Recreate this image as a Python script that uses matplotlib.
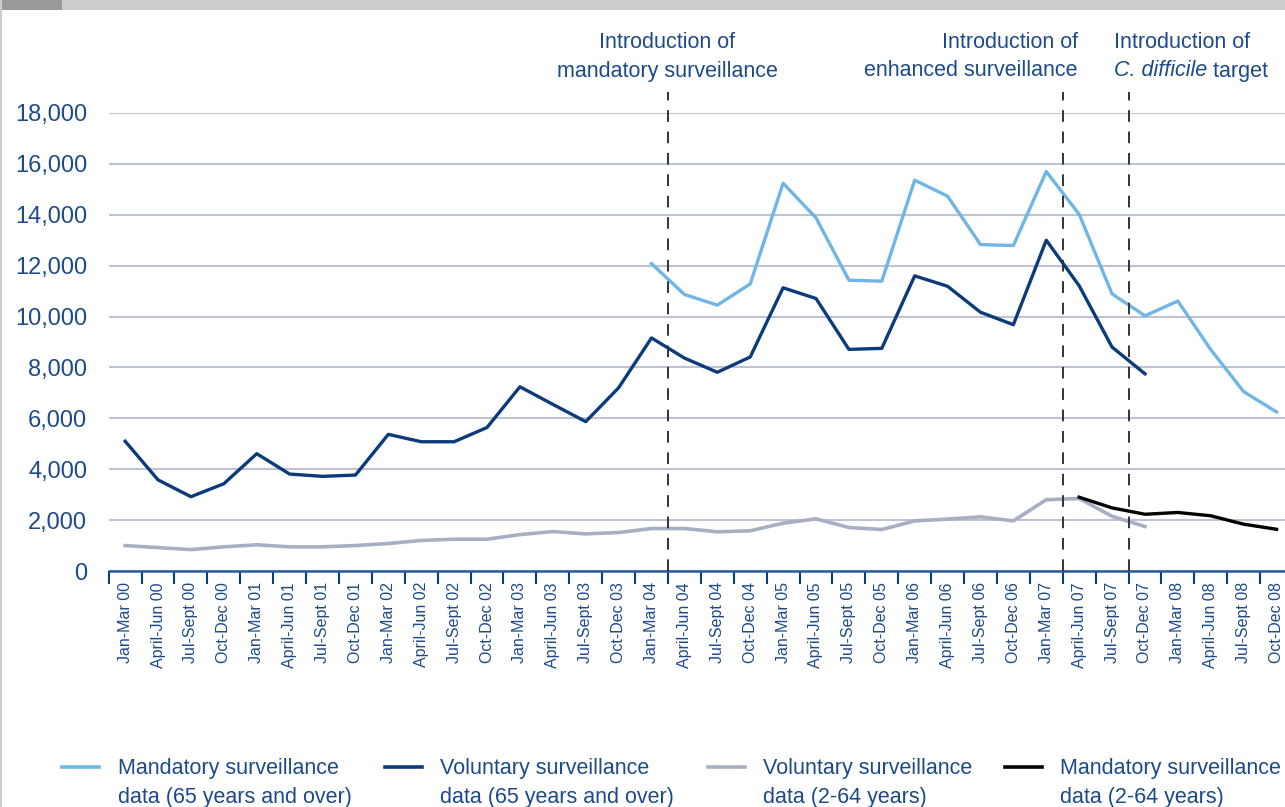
import numpy as np
import matplotlib.pyplot as plt
from matplotlib.lines import Line2D
from matplotlib.patches import Rectangle

quarters = ['Jan-Mar', 'April-Jun', 'Jul-Sept', 'Oct-Dec']
years = ['00', '01', '02', '03', '04', '05', '06', '07', '08']
labels = [q + ' ' + y for y in years for q in quarters]

# voluntary surveillance 65+ : Jan-Mar 00 .. Oct-Dec 07
vol_65 = [5100, 3580, 2920, 3430, 4610, 3810, 3720, 3770, 5370, 5080, 5080, 5640,
          7240, 6550, 5870, 7200, 9160, 8370, 7810, 8410, 11130, 10710, 8710, 8750,
          11600, 11190, 10170, 9680, 13000, 11210, 8800, 7750]
# voluntary surveillance 2-64 : Jan-Mar 00 .. Oct-Dec 07
vol_264 = [1000, 920, 840, 950, 1030, 950, 950, 1000, 1080, 1200, 1250, 1250,
           1430, 1550, 1460, 1510, 1670, 1670, 1540, 1580, 1880, 2050, 1710, 1630,
           1970, 2040, 2130, 1970, 2800, 2850, 2150, 1750]
# mandatory surveillance 65+ : Jan-Mar 04 .. Oct-Dec 08
man_65 = [12080, 10870, 10450, 11280, 15240, 13880, 11430, 11390, 15360, 14730,
          12830, 12790, 15700, 14020, 10890, 10030, 10610, 8700, 7050, 6250]
# mandatory surveillance 2-64 : April-Jun 07 .. Oct-Dec 08
man_264 = [2900, 2480, 2230, 2300, 2170, 1840, 1640]

events = [17, 29, 31]  # boundaries before April-Jun 04, April-Jun 07, Oct-Dec 07

navy = '#0c3b7c'
light = '#6fb6e6'
grey = '#a9afc2'
txt = '#1d4a8a'

plt.rcParams['font.family'] = ['Liberation Sans', 'DejaVu Sans']

fig = plt.figure(figsize=(12.85, 8.07), dpi=100)
W, H = 1285, 807
ax = fig.add_axes([108.7 / W, 1 - 571 / H, (1293 - 108.7) / W, (571 - 113) / H])

x = np.arange(len(labels)) + 0.5
ax.plot(x[:len(vol_65)], vol_65, color=navy, lw=2.4, zorder=4)
ax.plot(x[:len(vol_264)], vol_264, color=grey, lw=2.6, zorder=3)
ax.plot(x[16:16 + len(man_65)], man_65, color=light, lw=2.4, zorder=4)
ax.plot(x[29:29 + len(man_264)], man_264, color='black', lw=2.4, zorder=5)

ax.set_xlim(0, 36)
ax.set_ylim(0, 18000)
ax.set_yticks(np.arange(0, 18001, 2000))
ax.set_yticklabels(['{:,}'.format(v) for v in range(0, 18001, 2000)])
ax.yaxis.grid(True, color='#bfc2d2', lw=1.5)
ax.set_axisbelow(True)

ax.set_xticks(np.arange(0, 37))
ax.set_xticklabels([])
ax.set_xticks(x, minor=True)
ax.set_xticklabels(labels, minor=True, rotation=90, fontsize=11.5, color=txt)
ax.tick_params(axis='x', which='major', length=9, width=1.5, color=navy, direction='out')
ax.tick_params(axis='x', which='minor', length=0, pad=8)
ax.tick_params(axis='y', length=0, labelsize=17, labelcolor=txt, pad=15.5)

for s in ['top', 'right', 'left']:
    ax.spines[s].set_visible(False)
ax.spines['bottom'].set_color('#2b5a9a')
ax.spines['bottom'].set_linewidth(1.8)

for e in events:
    ax.axvline(e, ymin=0, ymax=(571 - 92) / (571 - 113), color='#333333', lw=1.4,
               ls=(0, (6, 5)), clip_on=False, zorder=6)

# annotations
fs = 15.5
fig.text(667 / W, 1 - 43 / H, 'Introduction of', ha='center', va='center', fontsize=fs, color=txt)
fig.text(667 / W, 1 - 71 / H, 'mandatory surveillance', ha='center', va='center', fontsize=fs, color=txt)
fig.text(1078 / W, 1 - 43 / H, 'Introduction of', ha='right', va='center', fontsize=fs, color=txt)
fig.text(1078 / W, 1 - 71 / H, 'enhanced surveillance', ha='right', va='center', fontsize=fs, color=txt)
fig.text(1114 / W, 1 - 43 / H, 'Introduction of', ha='left', va='center', fontsize=fs, color=txt)
it = fig.text(1114 / W, 1 - 71 / H, 'C. difficile', ha='left', va='center', fontsize=fs,
              color=txt, style='italic')
fig.canvas.draw()
bb = it.get_window_extent()
fig.text(bb.x1 / W, 1 - 71 / H, ' target', ha='left', va='center', fontsize=fs, color=txt)

# legend
legend = [(62, 118, light, 'Mandatory surveillance\ndata (65 years and over)'),
          (385, 440, navy, 'Voluntary surveillance\ndata (65 years and over)'),
          (708, 763, grey, 'Voluntary surveillance\ndata (2-64 years)'),
          (1005, 1060, 'black', 'Mandatory surveillance\ndata (2-64 years)')]
for x0, tx, c, t in legend:
    fig.add_artist(Line2D([x0 / W, (x0 + 37) / W], [1 - 767 / H] * 2, color=c, lw=2.6))
    fig.text(tx / W, 1 - 783 / H, t, ha='left', va='center', fontsize=fs, color=txt,
             linespacing=1.45)

# frame decoration
fig.add_artist(Rectangle((0, 1 - 10 / H), 1, 10 / H, transform=fig.transFigure,
                         color='#cccccc', lw=0))
fig.add_artist(Rectangle((0, 1 - 10 / H), 62 / W, 10 / H, transform=fig.transFigure,
                         color='#9a9a9a', lw=0))
fig.add_artist(Rectangle((0, 0), 2 / W, 1, transform=fig.transFigure, color='#cccccc', lw=0))

fig.savefig('out.png', dpi=100)
